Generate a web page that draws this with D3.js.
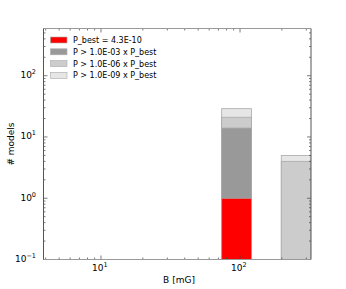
<!DOCTYPE html>
<html>
<head>
<script src="https://cdn.jsdelivr.net/npm/d3@7"></script>
<style>
  body { margin: 0; background: #fff; }
  text { font-family: "DejaVu Sans", sans-serif; fill: #000; }
</style>
</head>
<body>
<div id="chart"></div>
<script>
// histogram bin edges (B in mG, log-spaced bins)
const binEdges = [73.8, 121, 198, 324];
// counts per bin for each probability threshold
const labels = ["P_best = 4.3E-10", "P > 1.0E-03 x P_best", "P > 1.0E-06 x P_best", "P > 1.0E-09 x P_best"];
const countsBest = [1, 0, 0];
const counts1e3 = [14, 0, 0];
const counts1e6 = [21, 0, 4];
const counts1e9 = [29, 0, 5];
const colors = ["#ff0000", "#999999", "#cccccc", "#e6e6e6"];
const xTicks = [10, 100];
const yTicks = [0.1, 1, 10, 100];

const w = 346, h = 289;
const m = { left: 43.5, right: 311, top: 28.5, bottom: 259.5 };

const svg = d3.select("#chart").append("svg").attr("width", w).attr("height", h);

const x = d3.scaleLog().domain([3.86, 324]).range([m.left, m.right]);
const y = d3.scaleLog().domain([0.1, 590]).range([m.bottom, m.top]);

const plot = svg.append("g");
plot.append("clipPath").attr("id", "clip").append("rect")
  .attr("x", m.left).attr("y", m.top).attr("width", m.right - m.left).attr("height", m.bottom - m.top);

// draw from widest threshold down so the smaller ones sit on top
const series = [counts1e9, counts1e6, counts1e3, countsBest];
const seriesColors = [colors[3], colors[2], colors[1], colors[0]];
series.forEach((counts, s) => {
  plot.append("g").attr("clip-path", "url(#clip)")
    .selectAll("rect")
    .data(counts.map((c, i) => ({ c, x0: binEdges[i], x1: binEdges[i + 1] })).filter(d => d.c > 0))
    .enter().append("rect")
    .attr("x", d => x(d.x0))
    .attr("width", d => x(d.x1) - x(d.x0))
    .attr("y", d => y(d.c))
    .attr("height", d => y(0.1) - y(d.c))
    .attr("fill", seriesColors[s])
    .attr("stroke", "#aaaaaa")
    .attr("stroke-width", 0.8);
});

// minor tick values
function minors(lo, hi) {
  const out = [];
  for (let e = Math.floor(Math.log10(lo)); e <= Math.ceil(Math.log10(hi)); e++) {
    for (let k = 1; k <= 9; k++) {
      const v = k * Math.pow(10, e);
      if (v >= lo && v <= hi) out.push(v);
    }
  }
  return out;
}
const ticksG = svg.append("g").attr("stroke", "#444").attr("stroke-width", 0.7);
minors(3.86, 324).forEach(v => {
  const len = xTicks.includes(v) ? 4 : 2;
  ticksG.append("line").attr("x1", x(v)).attr("x2", x(v)).attr("y1", m.bottom).attr("y2", m.bottom - len);
  ticksG.append("line").attr("x1", x(v)).attr("x2", x(v)).attr("y1", m.top).attr("y2", m.top + len);
});
minors(0.1, 590).forEach(v => {
  const len = yTicks.includes(v) ? 4 : 2;
  ticksG.append("line").attr("y1", y(v)).attr("y2", y(v)).attr("x1", m.left).attr("x2", m.left + len);
  ticksG.append("line").attr("y1", y(v)).attr("y2", y(v)).attr("x1", m.right).attr("x2", m.right - len);
});

// frame
svg.append("line").attr("x1", m.left).attr("x2", m.right).attr("y1", m.top).attr("y2", m.top)
  .attr("stroke", "#999").attr("stroke-width", 1.2);
svg.append("line").attr("x1", m.left).attr("x2", m.right).attr("y1", m.bottom).attr("y2", m.bottom)
  .attr("stroke", "#999").attr("stroke-width", 1.2);
svg.append("line").attr("x1", m.left).attr("x2", m.left).attr("y1", m.top).attr("y2", m.bottom)
  .attr("stroke", "#555").attr("stroke-width", 1);
svg.append("line").attr("x1", m.right).attr("x2", m.right).attr("y1", m.top).attr("y2", m.bottom)
  .attr("stroke", "#555").attr("stroke-width", 1);

// tick labels
function powLabel(sel, v) {
  const e = Math.round(Math.log10(v));
  sel.append("tspan").text("10");
  sel.append("tspan").attr("font-size", 6.5).attr("dy", -4).text(e < 0 ? "\u2212" + (-e) : e);
}
xTicks.forEach(v => {
  const t = svg.append("text").attr("x", x(v) - 9).attr("y", 270.5).attr("font-size", 9);
  powLabel(t, v);
});
yTicks.forEach(v => {
  const t = svg.append("text").attr("x", 36).attr("y", y(v) + 2.5).attr("font-size", 9).attr("text-anchor", "end");
  powLabel(t, v);
});

svg.append("text").attr("x", 179).attr("y", 283).attr("font-size", 9).attr("text-anchor", "middle").text("B [mG]");
svg.append("text").attr("transform", "translate(13.5,144) rotate(-90)").attr("font-size", 9)
  .attr("text-anchor", "middle").text("# models");

// legend
const leg = svg.append("g");
labels.forEach((l, i) => {
  const cy = 40 + i * 11.8;
  leg.append("rect").attr("x", 50.5).attr("y", cy - 3).attr("width", 16.5).attr("height", 6)
    .attr("fill", colors[i]).attr("stroke", "#aaaaaa").attr("stroke-width", 0.6);
  leg.append("text").attr("x", 73).attr("y", cy + 3).attr("font-size", 8).text(l);
});
</script>
</body>
</html>
